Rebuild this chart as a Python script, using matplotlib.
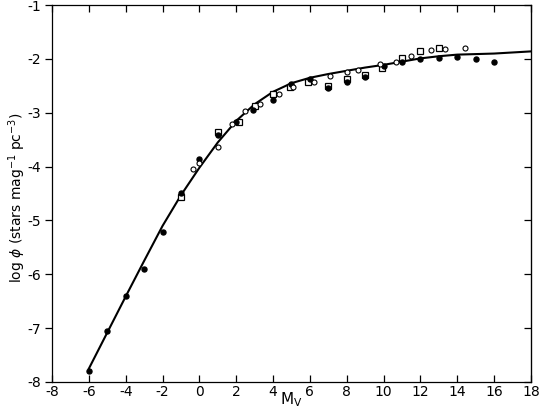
import matplotlib
matplotlib.use('Agg')
import matplotlib.pyplot as plt
import numpy as np

plt.rcParams['font.family'] = ['DejaVu Sans']
plt.rcParams['axes.unicode_minus'] = False

#%% data
# smooth fitted curve
curve_mv = [-6, -5, -4, -3, -2, -1, 0, 1, 2, 3, 4, 5, 6, 7, 8, 9, 10, 11, 12, 13, 14, 15, 16, 17, 18]
curve_phi = [-7.75, -7.08, -6.41, -5.75, -5.10, -4.53, -4.02, -3.55, -3.15, -2.84, -2.61, -2.45,
             -2.35, -2.28, -2.22, -2.16, -2.11, -2.05, -1.99, -1.95, -1.92, -1.91, -1.90, -1.88, -1.86]

# filled circles
filled_mv = [-6, -5, -4, -3, -2, -1, 0, 1, 2, 2.9, 4, 5, 6, 7, 8, 9, 10, 11, 12, 13, 14, 15, 16]
filled_phi = [-7.80, -7.05, -6.40, -5.90, -5.21, -4.49, -3.86, -3.42, -3.17, -2.94, -2.76, -2.47,
              -2.37, -2.54, -2.42, -2.34, -2.13, -2.06, -2.01, -1.98, -1.97, -2.00, -2.05]

# open circles
open_mv = [-0.33, 0, 1, 1.75, 2.5, 3.3, 4.3, 5.1, 6.25, 7.1, 8, 8.6, 9.8, 10.7, 11.5, 12.55, 13.35, 14.4]
open_phi = [-4.04, -3.93, -3.63, -3.20, -2.97, -2.84, -2.66, -2.53, -2.42, -2.31, -2.24, -2.21,
            -2.09, -2.05, -1.95, -1.83, -1.82, -1.80]

# open squares
sq_mv = [-1, 1, 2.15, 3, 4, 4.9, 5.9, 7, 8, 9, 9.9, 11, 12, 13]
sq_phi = [-4.56, -3.35, -3.17, -2.87, -2.65, -2.52, -2.43, -2.50, -2.38, -2.30, -2.17, -1.99, -1.85, -1.79]

xticks = list(range(-8, 19, 2))
yticks = list(range(-8, 0))

#%% figure
fig = plt.figure(figsize=(5.6, 4.11), dpi=100)
ax = fig.add_axes([0.093, 0.0706, 0.855, 0.917])

ax.plot(curve_mv, curve_phi, color='black', lw=1.5, zorder=2)
ax.plot(sq_mv, sq_phi, 's', ms=4.2, mfc='white', mec='black', mew=0.9, zorder=3)
ax.plot(filled_mv, filled_phi, 'o', ms=3.6, color='black', zorder=4)
ax.plot(open_mv, open_phi, 'o', ms=3.6, mfc='white', mec='black', mew=0.8, zorder=4)

ax.set_xlim(-8, 18)
ax.set_ylim(-8, -1)
ax.set_xticks(xticks)
ax.set_yticks(yticks)

for s in ax.spines.values():
    s.set_linewidth(0.9)

ax.tick_params(axis='x', direction='in', top=True, length=5, width=0.9, pad=2, labelsize=10)
ax.tick_params(axis='y', direction='out', right=False, length=5, width=0.9, pad=3, labelsize=10)

# inward ticks on the right side
ax_r = ax.secondary_yaxis('right')
ax_r.set_yticks(yticks)
ax_r.tick_params(direction='in', length=5, width=0.9, labelright=False)

ax.set_xlabel(r'M$_\mathregular{V}$', fontsize=11, labelpad=-6)
ax.set_ylabel(r'log $\phi$ (stars mag$^{-1}$ pc$^{-3}$)', fontsize=10)
ax.yaxis.set_label_coords(-0.05, 0.49)

fig.savefig('out.png', dpi=100)
